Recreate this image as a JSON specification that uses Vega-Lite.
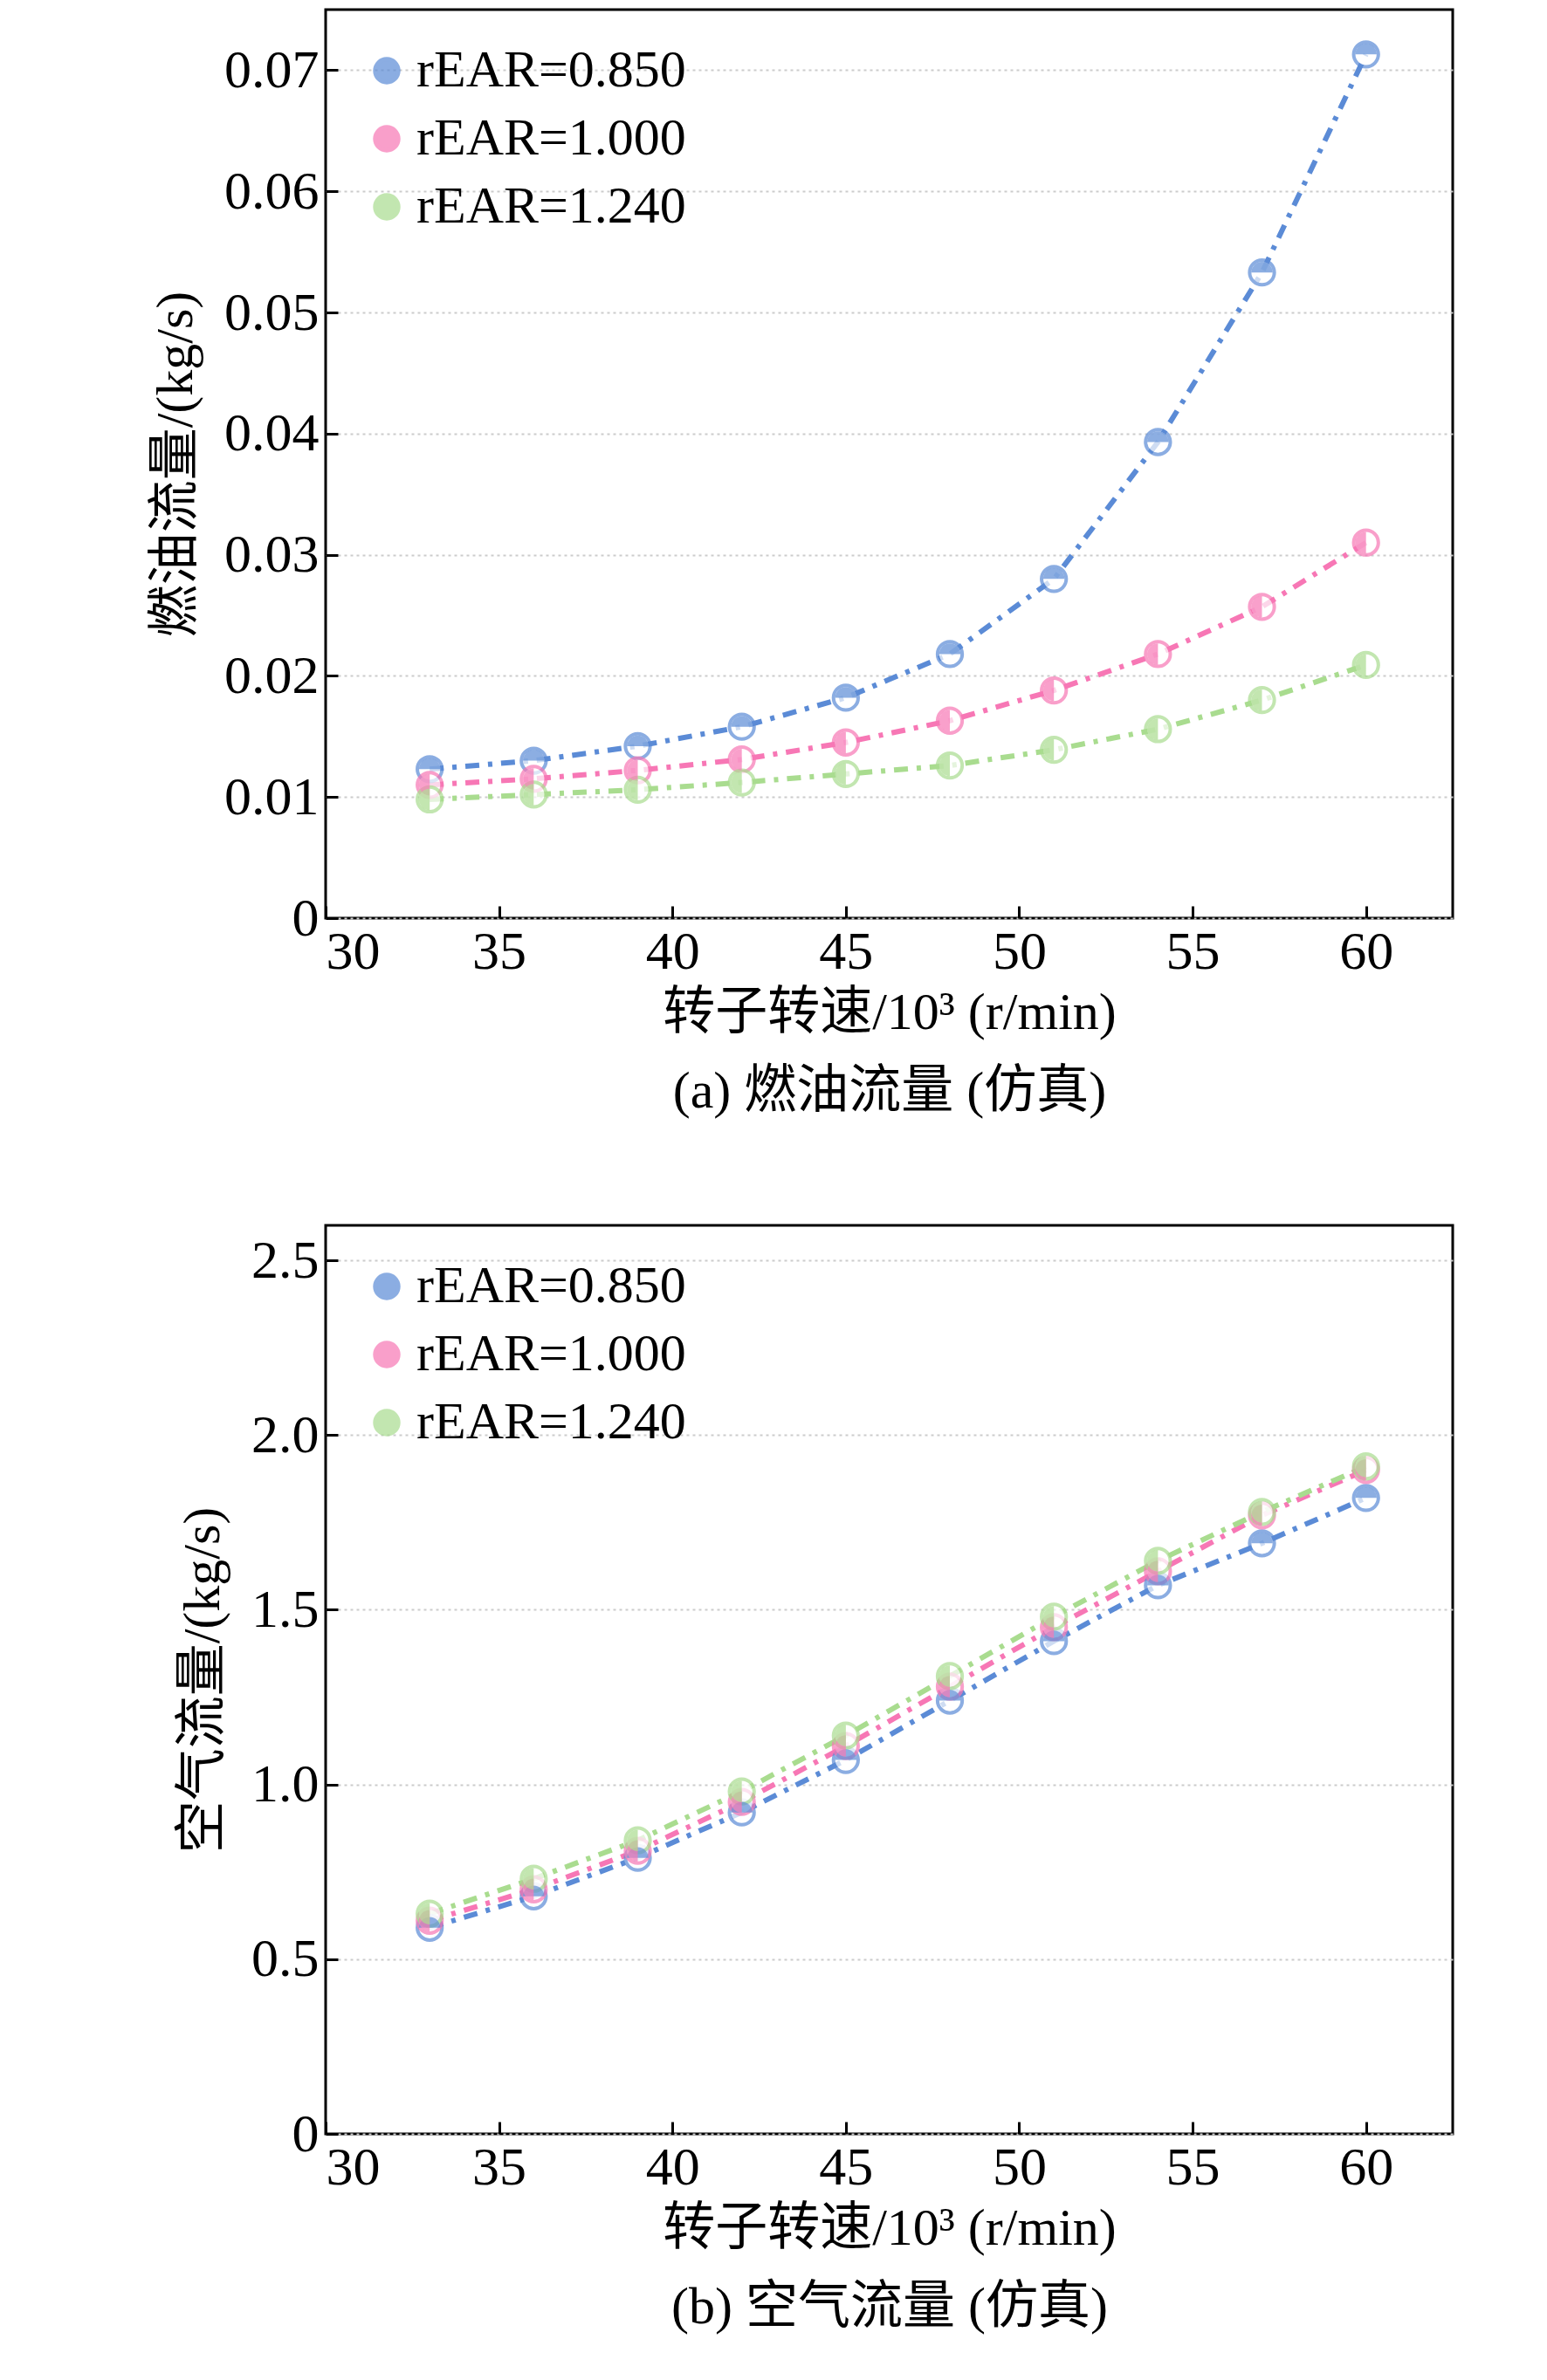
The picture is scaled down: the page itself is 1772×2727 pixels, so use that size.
{
"$schema":"https://vega.github.io/schema/vega-lite/v6.json",
"background":"white",
"padding":{"left":170,"top":9,"right":40,"bottom":5},
"config":{"font":"Liberation Serif, Noto Sans CJK SC","view":{"stroke":"black","strokeWidth":3},
"axis":{"labelFont":"Liberation Serif","labelFontSize":62,"labelColor":"black","titleFont":"Liberation Serif, Noto Sans CJK SC","titleFontSize":60,"titleFontWeight":"normal","titleColor":"black","domain":false,"tickColor":"black","tickWidth":3,"tickSize":-14,"labelPadding":22,"grid":true,"gridColor":"#cccccc","gridDash":[3,4],"gridWidth":2},
"legend":{"labelFont":"Liberation Serif","labelFontSize":60,"labelColor":"black","labelLimit":0,"orient":"top-left","symbolSize":700,"symbolStrokeWidth":5,"symbolType":"circle","rowPadding":18,"padding":20,"offset":20}},
"datasets":{"a":[
{"x":33,"s":"rEAR=0.850","y":0.0123},{"x":36,"s":"rEAR=0.850","y":0.0130},{"x":39,"s":"rEAR=0.850","y":0.0142},{"x":42,"s":"rEAR=0.850","y":0.0158},{"x":45,"s":"rEAR=0.850","y":0.0182},{"x":48,"s":"rEAR=0.850","y":0.0218},{"x":51,"s":"rEAR=0.850","y":0.0280},{"x":54,"s":"rEAR=0.850","y":0.0393},{"x":57,"s":"rEAR=0.850","y":0.0533},{"x":60,"s":"rEAR=0.850","y":0.0713},
{"x":33,"s":"rEAR=1.000","y":0.0110},{"x":36,"s":"rEAR=1.000","y":0.0115},{"x":39,"s":"rEAR=1.000","y":0.0122},{"x":42,"s":"rEAR=1.000","y":0.0131},{"x":45,"s":"rEAR=1.000","y":0.0145},{"x":48,"s":"rEAR=1.000","y":0.0163},{"x":51,"s":"rEAR=1.000","y":0.0188},{"x":54,"s":"rEAR=1.000","y":0.0218},{"x":57,"s":"rEAR=1.000","y":0.0257},{"x":60,"s":"rEAR=1.000","y":0.0310},
{"x":33,"s":"rEAR=1.240","y":0.0098},{"x":36,"s":"rEAR=1.240","y":0.0102},{"x":39,"s":"rEAR=1.240","y":0.0106},{"x":42,"s":"rEAR=1.240","y":0.0112},{"x":45,"s":"rEAR=1.240","y":0.0119},{"x":48,"s":"rEAR=1.240","y":0.0126},{"x":51,"s":"rEAR=1.240","y":0.0139},{"x":54,"s":"rEAR=1.240","y":0.0156},{"x":57,"s":"rEAR=1.240","y":0.0180},{"x":60,"s":"rEAR=1.240","y":0.0209}],
"b":[
{"x":33,"s":"rEAR=0.850","y":0.59},{"x":36,"s":"rEAR=0.850","y":0.68},{"x":39,"s":"rEAR=0.850","y":0.79},{"x":42,"s":"rEAR=0.850","y":0.92},{"x":45,"s":"rEAR=0.850","y":1.07},{"x":48,"s":"rEAR=0.850","y":1.24},{"x":51,"s":"rEAR=0.850","y":1.41},{"x":54,"s":"rEAR=0.850","y":1.57},{"x":57,"s":"rEAR=0.850","y":1.69},{"x":60,"s":"rEAR=0.850","y":1.82},
{"x":33,"s":"rEAR=1.000","y":0.61},{"x":36,"s":"rEAR=1.000","y":0.70},{"x":39,"s":"rEAR=1.000","y":0.81},{"x":42,"s":"rEAR=1.000","y":0.95},{"x":45,"s":"rEAR=1.000","y":1.11},{"x":48,"s":"rEAR=1.000","y":1.28},{"x":51,"s":"rEAR=1.000","y":1.45},{"x":54,"s":"rEAR=1.000","y":1.61},{"x":57,"s":"rEAR=1.000","y":1.77},{"x":60,"s":"rEAR=1.000","y":1.90},
{"x":33,"s":"rEAR=1.240","y":0.63},{"x":36,"s":"rEAR=1.240","y":0.73},{"x":39,"s":"rEAR=1.240","y":0.84},{"x":42,"s":"rEAR=1.240","y":0.98},{"x":45,"s":"rEAR=1.240","y":1.14},{"x":48,"s":"rEAR=1.240","y":1.31},{"x":51,"s":"rEAR=1.240","y":1.48},{"x":54,"s":"rEAR=1.240","y":1.64},{"x":57,"s":"rEAR=1.240","y":1.78},{"x":60,"s":"rEAR=1.240","y":1.91}]},
"vconcat":[
{"width":1291,"height":1041,"data":{"name":"a"},
"encoding":{"x":{"field":"x","type":"quantitative","scale":{"domain":[30,62.5],"nice":false},"axis":{"values":[30,35,40,45,50,55,60],"grid":false,"title":["转子转速/10³ (r/min)","(a) 燃油流量 (仿真)"],"titlePadding":10,"titleLineHeight":90}},
"y":{"field":"y","type":"quantitative","scale":{"domain":[0,0.075],"nice":false},"axis":{"values":[0,0.01,0.02,0.03,0.04,0.05,0.06,0.07],"labelExpr":"datum.value==0?'0':format(datum.value,'.2f')","title":"燃油流量/(kg/s)","titlePadding":24}},
"color":{"field":"s","type":"nominal","scale":{"range":["#5b8bd6","#f777b5","#a9dc8f"]},"title":null}},
"layer":[
{"mark":{"type":"line","strokeWidth":6,"strokeDash":[16,10,5,10]}},
{"mark":{"type":"point","filled":true,"fill":"white","strokeWidth":4,"size":800},"encoding":{"stroke":{"field":"s","type":"nominal","scale":{"range":["#5b8bd6","#f777b5","#a9dc8f"]},"legend":null},"color":{"value":"white"}}},
{"mark":{"type":"point","filled":true,"size":600},"encoding":{"shape":{"field":"s","type":"nominal","scale":{"range":["M -1 0 A 1 1 0 0 1 1 0 Z","M 0 -1 A 1 1 0 0 0 0 1 Z","M 0 -1 A 1 1 0 0 0 0 1 Z"]},"legend":null}}}
]},
{"width":1291,"height":1041,"data":{"name":"b"},
"encoding":{"x":{"field":"x","type":"quantitative","scale":{"domain":[30,62.5],"nice":false},"axis":{"values":[30,35,40,45,50,55,60],"grid":false,"title":["转子转速/10³ (r/min)","(b) 空气流量 (仿真)"],"titlePadding":10,"titleLineHeight":90}},
"y":{"field":"y","type":"quantitative","scale":{"domain":[0,2.6],"nice":false},"axis":{"values":[0,0.5,1,1.5,2,2.5],"labelExpr":"datum.value==0?'0':format(datum.value,'.1f')","title":"空气流量/(kg/s)","titlePadding":24}},
"color":{"field":"s","type":"nominal","scale":{"range":["#5b8bd6","#f777b5","#a9dc8f"]},"title":null}},
"layer":[
{"mark":{"type":"line","strokeWidth":6,"strokeDash":[16,10,5,10]}},
{"mark":{"type":"point","filled":true,"fill":"white","strokeWidth":4,"size":800},"encoding":{"stroke":{"field":"s","type":"nominal","scale":{"range":["#5b8bd6","#f777b5","#a9dc8f"]},"legend":null},"color":{"value":"white"}}},
{"mark":{"type":"point","filled":true,"size":600},"encoding":{"shape":{"field":"s","type":"nominal","scale":{"range":["M -1 0 A 1 1 0 0 1 1 0 Z","M 0 -1 A 1 1 0 0 0 0 1 Z","M 0 -1 A 1 1 0 0 0 0 1 Z"]},"legend":null}}}
]}
],
"spacing":120,
"resolve":{"legend":{"color":"independent"}}
}
